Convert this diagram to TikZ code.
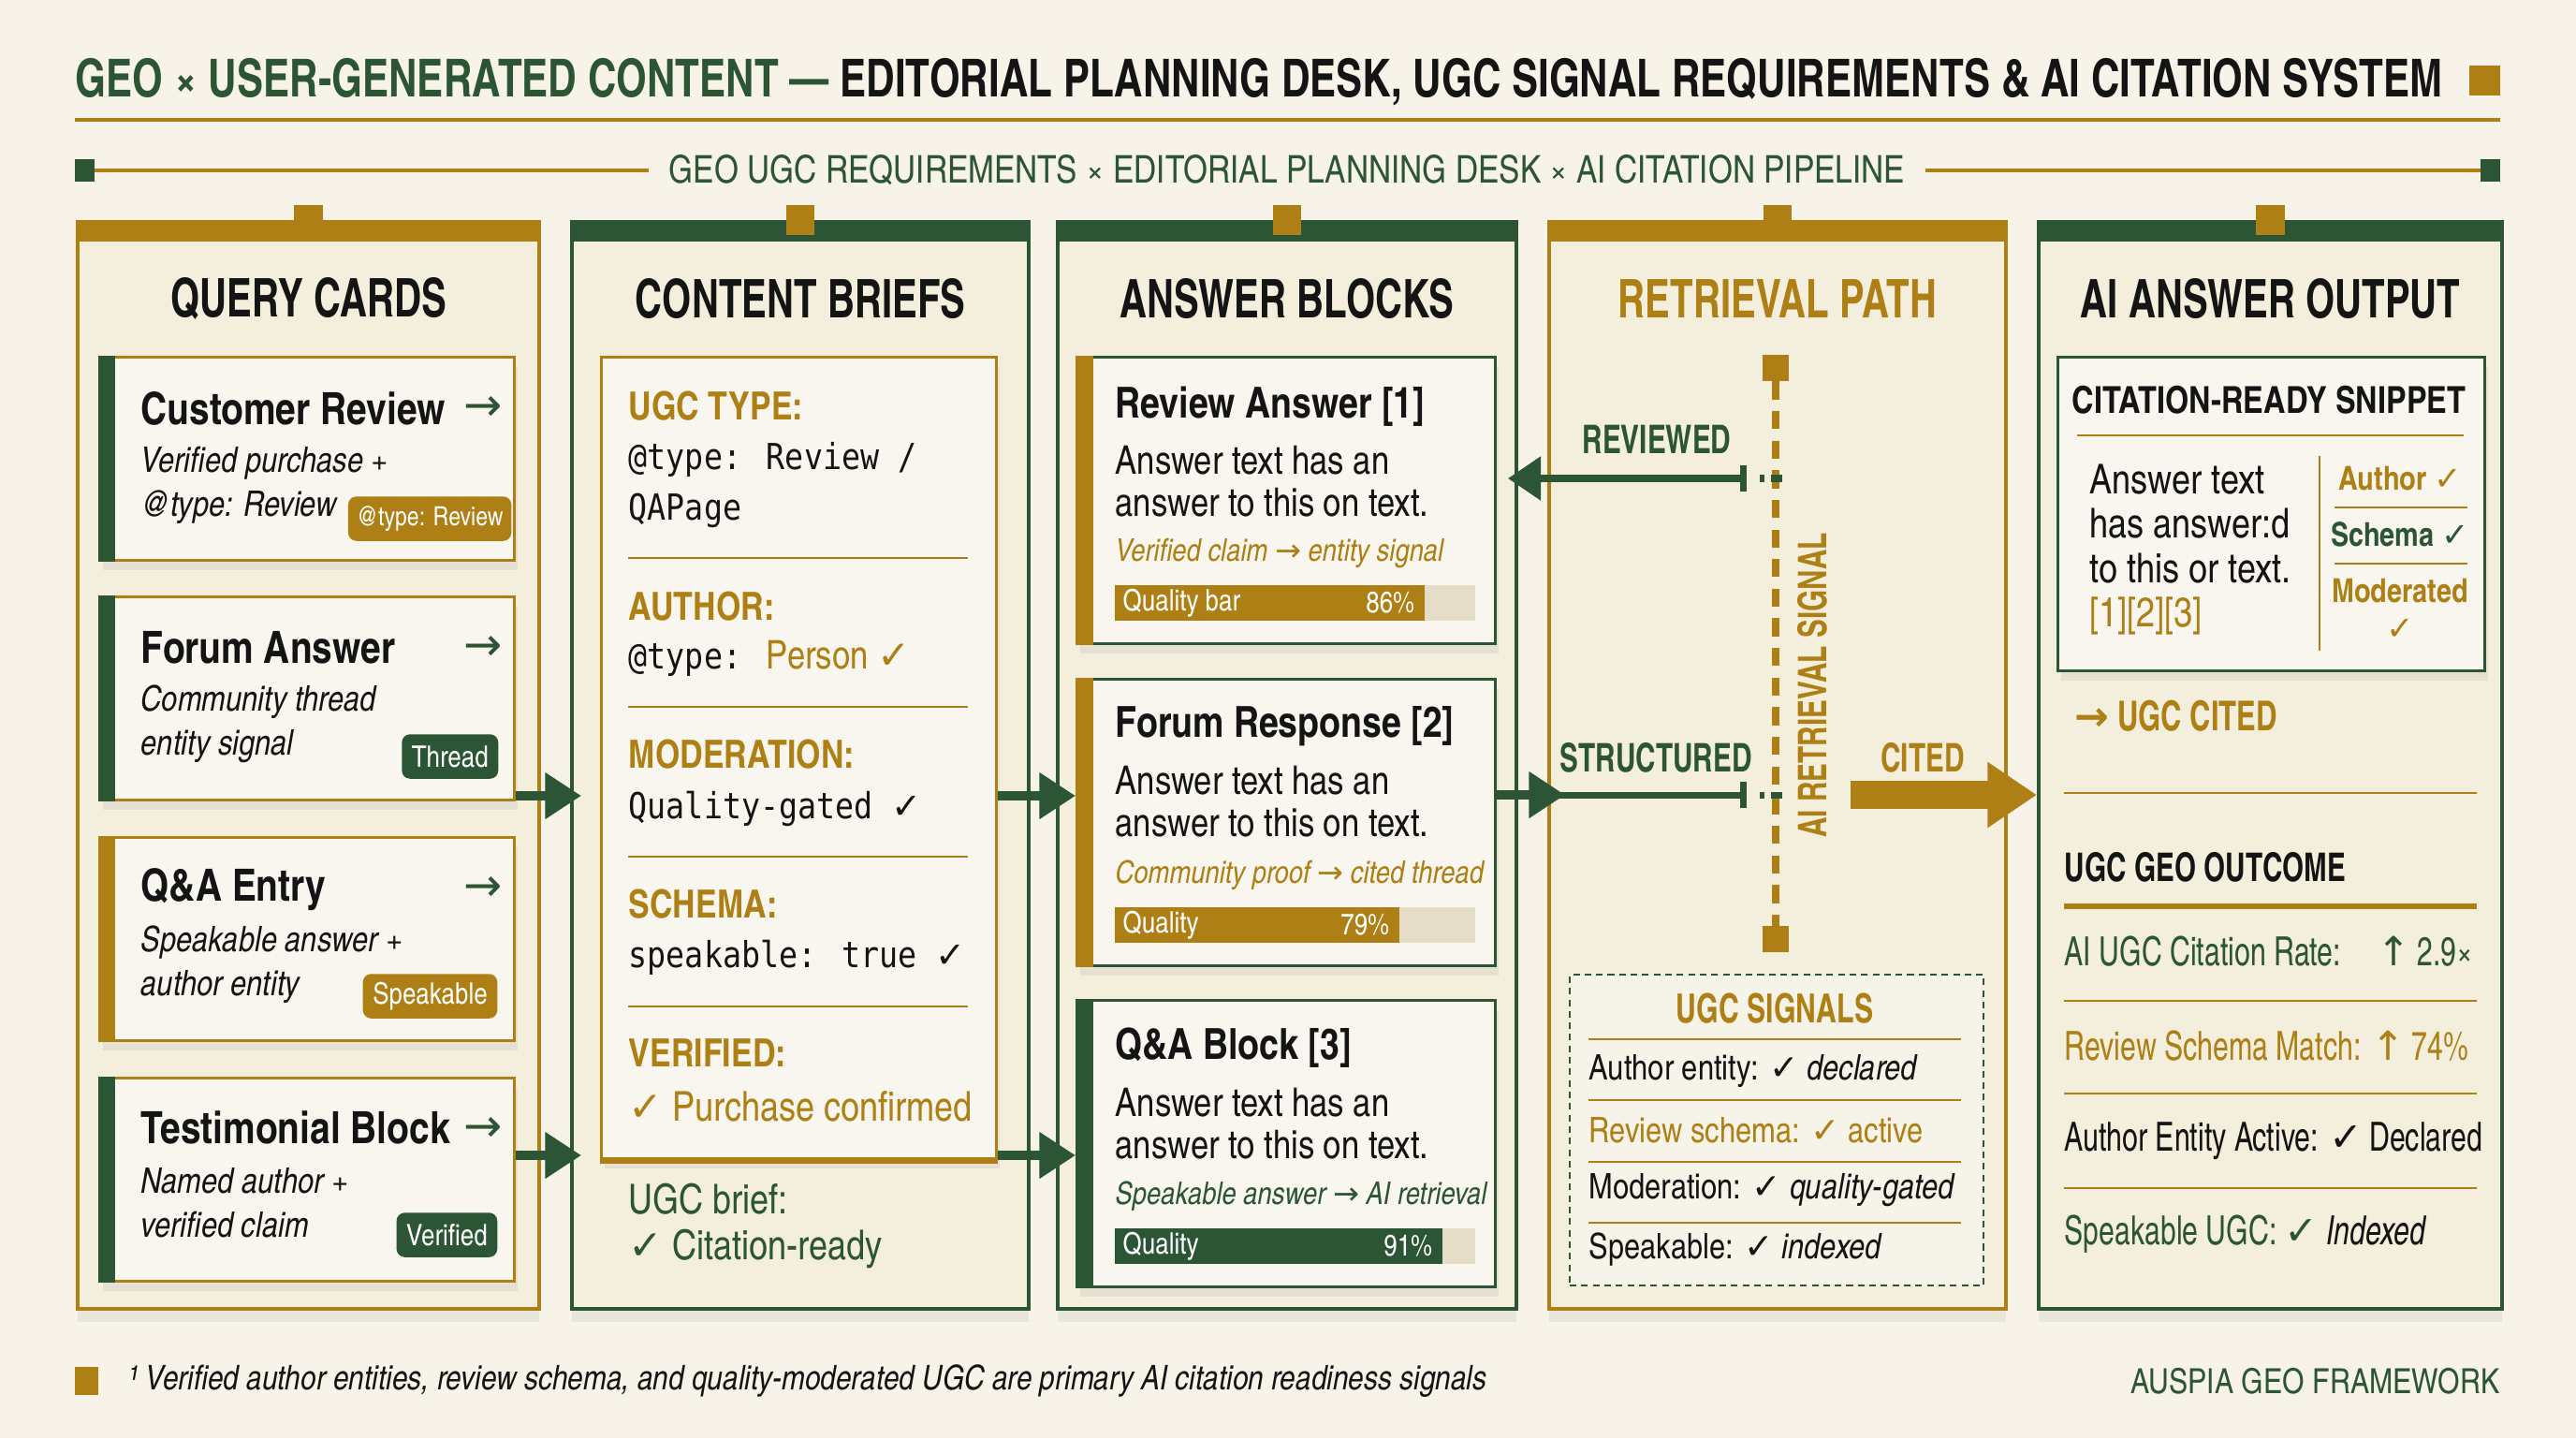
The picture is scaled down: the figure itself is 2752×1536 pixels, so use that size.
\documentclass[tikz,border=0pt]{standalone}
\usepackage{fontspec}
\usetikzlibrary{arrows.meta,shadows}
\setmainfont{texgyreheroscn}[Extension=.otf, UprightFont=*-regular, BoldFont=*-bold, ItalicFont=*-italic, BoldItalicFont=*-bolditalic]
\newfontfamily\headfont{texgyreheroscn}[Extension=.otf, UprightFont=*-regular, BoldFont=*-bold, ItalicFont=*-italic, BoldItalicFont=*-bolditalic, FakeStretch=0.86]
\newfontfamily\titlefont{texgyreheroscn}[Extension=.otf, UprightFont=*-regular, BoldFont=*-bold, ItalicFont=*-italic, BoldItalicFont=*-bolditalic, FakeStretch=0.92]
\newfontfamily\codefont{DejaVu Sans Mono}[FakeStretch=0.87]
\newfontfamily\symfont{DejaVu Sans}
\newcommand{\fsz}[2]{\fontsize{#1}{#2}\selectfont}
\newcommand{\ck}{{\symfont\bfseries ✓}}
\newcommand{\rarr}{{\symfont →}}
\newcommand{\uarr}{{\symfont ↑}}
\definecolor{PageCream}{HTML}{F7F3E8}
\definecolor{ColumnFill}{HTML}{F4EEDD}
\definecolor{CardFill}{HTML}{F8F6EF}
\definecolor{DeskGold}{HTML}{AD7F14}
\definecolor{DeskGreen}{HTML}{2B5535}
\definecolor{InkBlack}{HTML}{141414}
\definecolor{TrackTan}{HTML}{E6DDC8}
\tikzset{
  colframe/.style={draw=#1, line width=1.1pt, fill=ColumnFill, anchor=north west,
    minimum height=11.6cm, drop shadow={opacity=0.12, shadow xshift=0pt, shadow yshift=-4pt}},
  cardbox/.style={draw=#1, line width=0.8pt, fill=CardFill, anchor=north west,
    drop shadow={opacity=0.12, shadow xshift=1pt, shadow yshift=-3pt}},
  coltitle/.style={font=\headfont\bfseries\fsz{16.2pt}{18pt}},
  cardtitle/.style={anchor=west, font=\bfseries\fsz{13.5pt}{16pt}},
  cardsub/.style={anchor=west, align=left, font=\itshape\fsz{10.7pt}{13.4pt}},
  badge/.style={anchor=east, fill=#1, text=white, rounded corners=2.5pt, inner xsep=3pt,
    minimum height=13.5pt, font=\fsz{9pt}{10pt}},
  brieflabel/.style={anchor=west, text=DeskGold, font=\bfseries\fsz{11.8pt}{14pt}},
  briefcode/.style={anchor=west, align=left, font=\codefont\fsz{10.9pt}{15.6pt}},
  anstitle/.style={anchor=west, font=\bfseries\fsz{13pt}{15pt}},
  ansbody/.style={anchor=west, align=left, font=\fsz{12pt}{12.8pt}},
  ansnote/.style={anchor=west, font=\itshape\fsz{9.5pt}{12pt}},
  bartext/.style={text=white, font=\fsz{9pt}{10pt}},
  flowarrow/.style={DeskGreen, line width=2.9pt, -{Triangle[length=11pt, width=13.5pt]}},
  sigarrow/.style={DeskGreen, line width=2pt},
  siglabel/.style={font=\headfont\bfseries\fsz{12pt}{14pt}},
  sigrow/.style={anchor=west, font=\fsz{10.7pt}{13pt}},
  outrow/.style={anchor=west, font=\headfont\fsz{12.2pt}{14pt}},
  thinrule/.style={DeskGold, line width=0.6pt},
}
\begin{document}
\begin{tikzpicture}[x=0.01cm, y=-0.01cm, every node/.style={inner sep=0pt, text=InkBlack}]
  \fill[PageCream] (0,0) rectangle (2752,1536);
  \useasboundingbox (0,0) rectangle (2752,1536);

  % heading
  \node[anchor=west, font=\titlefont\bfseries\fsz{15.9pt}{18pt}] (title) at (80,88)
    {\textcolor{DeskGreen}{GEO × USER-GENERATED CONTENT —} EDITORIAL PLANNING DESK, UGC SIGNAL REQUIREMENTS \& AI CITATION SYSTEM};
  \fill[DeskGold] (2638,70) rectangle (2671,102);
  \draw[DeskGold, line width=1.2pt] (80,128) -- (2671,128);
  \node[text=DeskGreen, font=\fsz{11.6pt}{14pt}] (subtitle) at (1375,182)
    {GEO UGC REQUIREMENTS × EDITORIAL PLANNING DESK × AI CITATION PIPELINE};
  \fill[DeskGreen] (80,170) rectangle (101,194);
  \fill[DeskGreen] (2650,170) rectangle (2671,194);
  \draw[DeskGold, line width=1pt] (101,182) -- ([xshift=-6pt]subtitle.west);
  \draw[DeskGold, line width=1pt] ([xshift=6pt]subtitle.east) -- (2650,182);

  % five columns
  \foreach \xa/\cw/\clr/\nm/\tc/\ttl in {81/4.93/DeskGold/qcol/InkBlack/QUERY CARDS,
      609/4.88/DeskGreen/bcol/InkBlack/CONTENT BRIEFS, 1128/4.90/DeskGreen/acol/InkBlack/ANSWER BLOCKS,
      1653/4.88/DeskGold/rcol/DeskGold/RETRIEVAL PATH, 2176/4.95/DeskGreen/ocol/InkBlack/AI ANSWER OUTPUT}{
    \node[colframe=\clr, minimum width=\cw cm] (\nm) at (\xa,235) {};
    \fill[\clr] (\nm.north west) rectangle ([yshift=-6.5pt]\nm.north east);
    \fill[DeskGold] ([xshift=-4.3pt, yshift=4.6pt]\nm.north) rectangle ([xshift=4.3pt, yshift=-4.6pt]\nm.north);
    \node[coltitle, text=\tc] (\nm-title) at ([yshift=-24pt]\nm.north) {\ttl};
  }

  % query cards
  \foreach \y/\acc/\nm in {380/DeskGreen/qc1, 636/DeskGreen/qc2, 893/DeskGold/qc3, 1150/DeskGreen/qc4}{
    \node[cardbox=DeskGold, minimum width=4.43cm, minimum height=2.17cm] (\nm) at (105,\y) {};
    \fill[\acc] (\nm.north west) rectangle ([xshift=5.2pt]\nm.south west);
    \node[text=DeskGreen, font=\fsz{14pt}{16pt}] (\nm-go) at ([xshift=-10pt, yshift=-16pt]\nm.north east) {\rarr};
  }
  \node[cardtitle] (qc1-t) at (150,436) {Customer Review};
  \node[cardsub] (qc1-s) at (150,518) {Verified purchase +\\@type: Review};
  \node[badge=DeskGold, font=\fsz{8pt}{10pt}, inner xsep=2.5pt] (qc1-b) at (547,554) {@type: Review};
  \node[cardtitle] (qc2-t) at (150,692) {Forum Answer};
  \node[cardsub] (qc2-s) at (150,773) {Community thread\\entity signal};
  \node[badge=DeskGreen] (qc2-b) at (533,808) {Thread};
  \node[cardtitle] (qc3-t) at (150,950) {Q\&A Entry};
  \node[cardsub] (qc3-s) at (150,1030) {Speakable answer +\\author entity};
  \node[badge=DeskGold] (qc3-b) at (532,1064) {Speakable};
  \node[cardtitle] (qc4-t) at (150,1204) {Testimonial Block};
  \node[cardsub] (qc4-s) at (150,1285) {Named author +\\verified claim};
  \node[badge=DeskGreen] (qc4-b) at (532,1319) {Verified};

  % content brief
  \node[cardbox=DeskGold, minimum width=4.22cm, minimum height=8.56cm] (brief) at (641,380) {};
  \draw[DeskGold, line width=2pt] (brief.south west) -- (brief.south east);
  \node[brieflabel] (brief-type) at (671,434) {UGC TYPE:};
  \node[briefcode] (brief-typev) at (671,518) {@type: Review /\\QAPage};
  \node[brieflabel] (brief-auth) at (671,648) {AUTHOR:};
  \node[briefcode] (brief-authv) at (671,703) {@type: \textcolor{DeskGold}{\rmfamily\fsz{12pt}{15pt}Person \ck}};
  \node[brieflabel] (brief-mod) at (671,806) {MODERATION:};
  \node[briefcode] (brief-modv) at (671,864) {Quality-gated \ck};
  \node[brieflabel] (brief-schema) at (671,966) {SCHEMA:};
  \node[briefcode] (brief-schemav) at (671,1023) {speakable: true \ck};
  \node[brieflabel] (brief-ver) at (671,1125) {VERIFIED:};
  \node[anchor=west, text=DeskGold, font=\fsz{12.5pt}{14pt}] (brief-verv) at (671,1182) {\ck\ Purchase confirmed};
  \foreach \y in {596,755,915,1075} \draw[thinrule] (671,\y) -- (1034,\y);
  \node[anchor=west, text=DeskGreen, font=\fsz{12.5pt}{14pt}] (brief-out) at (671,1281) {UGC brief:};
  \node[anchor=west, text=DeskGreen, font=\fsz{12.5pt}{14pt}] (brief-outv) at (671,1334) {\ck\ Citation-ready};

  % answer blocks
  \foreach \y/\acc/\nm in {380/DeskGold/ab1, 724/DeskGold/ab2, 1067/DeskGreen/ab3}{
    \node[cardbox=DeskGreen, minimum width=4.47cm, minimum height=3.06cm] (\nm) at (1149,\y) {};
    \fill[\acc] (\nm.north west) rectangle ([xshift=5.3pt]\nm.south west);
  }
  \node[anstitle] (ab1-t) at (1191,434) {Review Answer [1]};
  \node[ansbody] (ab1-b) at (1191,514) {Answer text has an\\answer to this on text.};
  \node[ansnote, text=DeskGold] (ab1-n) at (1191,591) {Verified claim \rarr\ entity signal};
  \fill[TrackTan] (1191,625) rectangle (1576,663);
  \fill[DeskGold] (1191,625) rectangle (1522,663);
  \node[bartext, anchor=west] (ab1-q) at (1199,644) {Quality bar};
  \node[bartext, anchor=east] (ab1-p) at (1512,644) {86\%};
  \node[anstitle] (ab2-t) at (1191,776) {Forum Response [2]};
  \node[ansbody] (ab2-b) at (1191,856) {Answer text has an\\answer to this on text.};
  \node[ansnote, text=DeskGold] (ab2-n) at (1191,935) {Community proof \rarr\ cited thread};
  \fill[TrackTan] (1191,969) rectangle (1576,1007);
  \fill[DeskGold] (1191,969) rectangle (1495,1007);
  \node[bartext, anchor=west] (ab2-q) at (1199,988) {Quality};
  \node[bartext, anchor=east] (ab2-p) at (1485,988) {79\%};
  \node[anstitle] (ab3-t) at (1191,1119) {Q\&A Block [3]};
  \node[ansbody] (ab3-b) at (1191,1200) {Answer text has an\\answer to this on text.};
  \node[ansnote, text=DeskGreen] (ab3-n) at (1191,1278) {Speakable answer \rarr\ AI retrieval};
  \fill[TrackTan] (1191,1312) rectangle (1576,1350);
  \fill[DeskGreen] (1191,1312) rectangle (1541,1350);
  \node[bartext, anchor=west] (ab3-q) at (1199,1331) {Quality};
  \node[bartext, anchor=east] (ab3-p) at (1531,1331) {91\%};

  % flow between columns
  \coordinate (lane1) at (0,850);
  \coordinate (lane2) at (0,1234);
  \coordinate (bin1) at (621,850);
  \coordinate (bin2) at (621,1234);
  \draw[flowarrow] (qc2.east |- lane1) -- (bin1);
  \draw[flowarrow] (qc4.east |- lane2) -- (bin2);
  \draw[flowarrow] (brief.east |- lane1) -- (ab2.west |- lane1);
  \draw[flowarrow] (brief.east |- lane2) -- (ab3.west |- lane2);

  % retrieval path
  \node[fill=DeskGold, minimum size=7.7pt] (sigtop) at (1897,393) {};
  \node[fill=DeskGold, minimum size=7.7pt] (sigbot) at (1897,1003) {};
  \draw[DeskGold, line width=2.2pt, dash pattern=on 5.5pt off 3.5pt] (sigtop) -- (sigbot);
  \node[rotate=90, text=DeskGold, font=\headfont\bfseries\fsz{12pt}{14pt}] (sig-label) at (1936,732) {AI RETRIEVAL SIGNAL};
  \coordinate (revtick) at (1866,511);
  \coordinate (revend) at (1611,511);
  \coordinate (structin) at (1672,849);
  \coordinate (structtick) at (1866,849);
  \draw[sigarrow, {Bar[width=8pt]}-{Triangle[length=10pt, width=13pt]}] (revtick) -- (revend);
  \draw[flowarrow] (ab2.east |- structin) -- (structin);
  \draw[sigarrow, -{Bar[width=8pt]}] (1660,849) -- (structtick);
  \draw[DeskGreen, line width=2pt, dash pattern=on 1.5pt off 2pt on 6pt off 9pt] (1880,511) -- (1904,511);
  \draw[DeskGreen, line width=2pt, dash pattern=on 1.5pt off 2pt on 6pt off 9pt] (1880,849) -- (1904,849);
  \node[siglabel, text=DeskGreen] (rev-label) at (1770,469) {REVIEWED};
  \node[siglabel, text=DeskGreen] (struct-label) at (1769,809) {STRUCTURED};
  \node[siglabel, text=DeskGold] (cited-label) at (2054,809) {CITED};
  \coordinate (cite-from) at (1977,849);
  \draw[DeskGold, line width=8.5pt, -{Triangle[length=15pt, width=19pt]}] (cite-from) -- (ocol.west |- cite-from);

  % signal checklist
  \node[draw=DeskGreen, line width=0.6pt, dash pattern=on 2pt off 1.5pt, fill=CardFill!60!ColumnFill,
    anchor=north west, minimum width=4.42cm, minimum height=3.32cm] (sigbox) at (1676,1040) {};
  \node[text=DeskGold, font=\headfont\bfseries\fsz{12.2pt}{14pt}] (sigbox-t) at (1896,1077) {UGC SIGNALS};
  \foreach \y in {1110,1175,1241,1306} \draw[thinrule] (1697,\y) -- (2095,\y);
  \node[sigrow] (sig-r1) at (1697,1144) {Author entity: \ck\ \textit{declared}};
  \node[sigrow, text=DeskGold] (sig-r2) at (1697,1207) {Review schema: \ck\ active};
  \node[sigrow] (sig-r3) at (1697,1271) {Moderation: \ck\ \textit{quality-gated}};
  \node[sigrow] (sig-r4) at (1697,1335) {Speakable: \ck\ \textit{indexed}};

  % answer output
  \node[cardbox=DeskGreen, minimum width=4.56cm, minimum height=3.35cm] (snip) at (2197,380) {};
  \node[font=\bfseries\fsz{11.3pt}{13pt}] (snip-t) at (2424,427) {CITATION-READY SNIPPET};
  \draw[thinrule] (2219,465) -- (2632,465);
  \node[anchor=west, align=left, font=\fsz{12.5pt}{13.4pt}] (snip-body) at (2232,587)
    {Answer text\\has answer:d\\to this or text.\\\textcolor{DeskGold}{[1][2][3]}};
  \draw[DeskGold, line width=0.7pt] (2478,487) -- (2478,695);
  \node[text=DeskGold, font=\bfseries\fsz{10pt}{11.4pt}] (snip-a) at (2564,511) {Author \ck};
  \draw[thinrule] (2494,542) -- (2636,542);
  \node[text=DeskGreen, font=\bfseries\fsz{10pt}{11.4pt}] (snip-s) at (2564,571) {Schema \ck};
  \draw[thinrule] (2494,602) -- (2636,602);
  \node[text=DeskGold, align=center, font=\bfseries\fsz{10pt}{11.4pt}] (snip-m) at (2564,651) {Moderated\\\ck};
  \node[anchor=west, text=DeskGold, font=\headfont\bfseries\fsz{12.5pt}{14pt}] (ugc-cited) at (2216,765) {\rarr\ UGC CITED};
  \draw[thinrule] (2205,847) -- (2646,847);
  \node[anchor=west, font=\headfont\bfseries\fsz{12pt}{14pt}] (outcome-t) at (2205,926) {UGC GEO OUTCOME};
  \draw[DeskGold, line width=1.5pt] (2205,968) -- (2646,968);
  \node[outrow, text=DeskGreen] (out-1) at (2205,1016) {AI UGC Citation Rate:};
  \node[outrow, anchor=east, text=DeskGreen] (out-1v) at (2643,1016) {\uarr\,2.9×};
  \draw[thinrule] (2205,1069) -- (2646,1069);
  \node[outrow, text=DeskGold] (out-2) at (2205,1117) {Review Schema Match: \uarr\,74\%};
  \draw[thinrule] (2205,1168) -- (2646,1168);
  \node[outrow] (out-3) at (2205,1219) {Author Entity Active: \ck\,Declared};
  \draw[thinrule] (2205,1269) -- (2646,1269);
  \node[outrow, text=DeskGreen] (out-4) at (2205,1318) {Speakable UGC: \ck\ \textcolor{InkBlack}{\textit{Indexed}}};

  % footer
  \fill[DeskGold] (80,1460) rectangle (105,1490);
  \node[anchor=west, font=\itshape\fsz{10.35pt}{12pt}] (footnote) at (137,1475)
    {¹ Verified author entities, review schema, and quality-moderated UGC are primary AI citation readiness signals};
  \node[anchor=east, text=DeskGreen, font=\fsz{10.5pt}{13pt}] (brand) at (2671,1475) {AUSPIA GEO FRAMEWORK};
\end{tikzpicture}
\end{document}
